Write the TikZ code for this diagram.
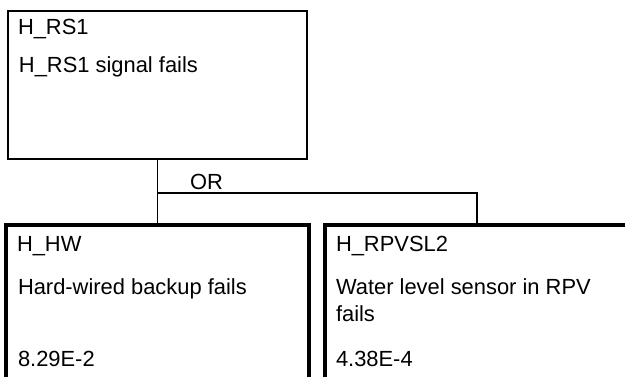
\documentclass[tikz,border=0pt]{standalone}
\usepackage{fontspec}
\setmainfont{Liberation Sans}
\begin{document}
\begin{tikzpicture}[x=1pt,y=-1pt,
  topbox/.style={draw=black, line width=2pt, inner sep=0pt, outer sep=0pt, anchor=north west,
    minimum width=299pt, minimum height=148pt},
  evbox/.style={draw=black, line width=3.5pt, inner sep=0pt, outer sep=0pt, anchor=north west,
    minimum height=180pt},
  conn/.style={draw=black, line width=1.3pt},
  lbl/.style={inner sep=0pt, outer sep=0pt, anchor=base west, font=\fontsize{21.9}{26.7}\selectfont}
]
\useasboundingbox (0,0) rectangle (625,377);
\clip (0,0) rectangle (625,377);
% boxes
\node[topbox] (top) at (8,11) {};
\node[evbox, minimum width=303pt] (hw) at (6,225) {};
\node[evbox, minimum width=380pt] (rpv) at (325,225) {};
% connectors
\coordinate (rj) at (477,193);
\draw[conn] (top.south) -- (hw.north);
\draw[conn] (top.south |- rj) -- (rj) -- (rj |- rpv.north);
% texts
\node[lbl] (t1) at (18,34.5) {H\_RS1};
\node[lbl] (t2) at (19,72.7) {H\_RS1 signal fails};
\node[lbl] (or) at (190,190) {OR};
\node[lbl] (h1) at (17,251.7) {H\_HW};
\node[lbl] (h2) at (18,295) {Hard-wired backup fails};
\node[lbl] (h3) at (18,366.5) {8.29E-2};
\node[lbl] (r1) at (336,251.7) {H\_RPVSL2};
\node[lbl] (r2) at (336,295) {Water level sensor in RPV};
\node[lbl] (r3) at (336,321.7) {fails};
\node[lbl] (r4) at (336,366.5) {4.38E-4};
\end{tikzpicture}
\end{document}
